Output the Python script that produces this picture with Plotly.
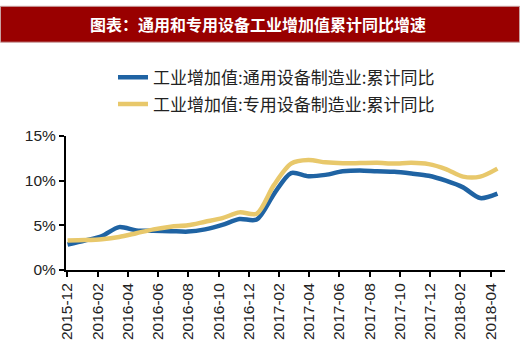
import plotly.graph_objects as go

# ---- data ----
categories = ['2015-12', '2016-02', '2016-03', '2016-04', '2016-05', '2016-06', '2016-07',
              '2016-08', '2016-09', '2016-10', '2016-11', '2016-12', '2017-02', '2017-03',
              '2017-04', '2017-05', '2017-06', '2017-07', '2017-08', '2017-09', '2017-10',
              '2017-11', '2017-12', '2018-02', '2018-03', '2018-04']
general_equip = [2.85, 3.3, 3.8, 4.8, 4.42, 4.38, 4.35, 4.3, 4.55, 5.05, 5.7, 5.65, 8.5, 10.85,
                 10.5, 10.65, 11.05, 11.15, 11.05, 11.0, 10.8, 10.55, 10.0, 9.25, 8.05, 8.55]
special_equip = [3.3, 3.35, 3.45, 3.7, 4.12, 4.55, 4.85, 5.0, 5.4, 5.8, 6.45, 6.3, 9.5, 11.9,
                 12.3, 12.05, 11.95, 11.97, 12.0, 11.92, 12.0, 11.85, 11.3, 10.45, 10.45, 11.35]
month_axis = ['2015-12', '2016-01', '2016-02', '2016-03', '2016-04', '2016-05', '2016-06',
              '2016-07', '2016-08', '2016-09', '2016-10', '2016-11', '2016-12', '2017-01',
              '2017-02', '2017-03', '2017-04', '2017-05', '2017-06', '2017-07', '2017-08',
              '2017-09', '2017-10', '2017-11', '2017-12', '2018-01', '2018-02', '2018-03',
              '2018-04']
tick_labels = ['2015-12', '2016-02', '2016-04', '2016-06', '2016-08', '2016-10', '2016-12',
               '2017-02', '2017-04', '2017-06', '2017-08', '2017-10', '2017-12', '2018-02',
               '2018-04']
y_ticks = [0, 5, 10, 15]
y_tick_text = ['0%', '5%', '10%', '15%']
name_general = '工业增加值:通用设备制造业:累计同比'
name_special = '工业增加值:专用设备制造业:累计同比'
title_text = '图表：通用和专用设备工业增加值累计同比增速'

BLUE = '#1f63a3'
YELLOW = '#e8c86b'
CJK = 'Noto Sans CJK SC'
LAT = 'Liberation Sans, Arial, sans-serif'

W, H = 520, 352
ML, MR, MT, MB = 66, 15, 136, 76
PW, PH = W - ML - MR, H - MT - MB


def px_x(p):
    return (p - ML) / PW


def px_y(p):
    return (H - MB - p) / PH


fig = go.Figure()

# helper trace (no visible marks) for the month tick axis
fig.add_trace(go.Scatter(x=month_axis, y=[None] * len(month_axis), xaxis='x', yaxis='y',
                         mode='lines', showlegend=False, hoverinfo='skip'))

fig.add_trace(go.Scatter(x=categories, y=general_equip, xaxis='x2', yaxis='y',
                         mode='lines', name=name_general,
                         line=dict(color=BLUE, width=4.5, shape='spline', smoothing=0.8),
                         legend='legend'))
fig.add_trace(go.Scatter(x=categories, y=special_equip, xaxis='x2', yaxis='y',
                         mode='lines', name=name_special,
                         line=dict(color=YELLOW, width=4.5, shape='spline', smoothing=0.8),
                         legend='legend2'))

fig.update_layout(
    width=W, height=H,
    margin=dict(l=ML, r=MR, t=MT, b=MB, pad=0),
    paper_bgcolor='white', plot_bgcolor='white',
    xaxis=dict(type='category', categoryorder='array', categoryarray=month_axis,
               range=[-0.09, 28.95], tickmode='array', tickvals=tick_labels,
               ticktext=tick_labels, tickangle=-90, ticks='outside', ticklen=5,
               tickwidth=1.5, tickcolor='black', showline=True, linecolor='black',
               linewidth=2, showgrid=False, zeroline=False,
               tickfont=dict(family=LAT, size=15.5, color='#222')),
    xaxis2=dict(type='category', categoryorder='array', categoryarray=categories,
                range=[-0.09, 25.44], overlaying='x', anchor='y', visible=False,
                showgrid=False, zeroline=False),
    yaxis=dict(range=[0, 15], tickmode='array', tickvals=y_ticks, ticktext=y_tick_text,
               ticks='outside', ticklen=5, tickwidth=1.5, tickcolor='black',
               showline=True, linecolor='black', linewidth=2, showgrid=False,
               zeroline=False, tickfont=dict(family=LAT, size=15.5, color='#222')),
    legend=dict(x=px_x(113), y=px_y(75), xanchor='left', yanchor='middle',
                bgcolor='rgba(0,0,0,0)', borderwidth=0,
                font=dict(family=CJK, size=17, color='#222')),
    legend2=dict(x=px_x(113), y=px_y(103), xanchor='left', yanchor='middle',
                 bgcolor='rgba(0,0,0,0)', borderwidth=0,
                 font=dict(family=CJK, size=17, color='#222')),
    shapes=[dict(type='rect', xref='paper', yref='paper', x0=px_x(0.5), x1=px_x(519.5),
                 y0=px_y(38), y1=px_y(0.5), fillcolor='#990000',
                 line=dict(color='#c9a0a0', width=1), layer='above')],
    annotations=[dict(text='<b>' + title_text + '</b>', xref='paper', yref='paper',
                      x=px_x(258), y=px_y(19), xanchor='center', yanchor='middle',
                      showarrow=False,
                      font=dict(family=CJK, size=16, color='white'))],
    showlegend=True,
)

fig.write_html('out.html')
